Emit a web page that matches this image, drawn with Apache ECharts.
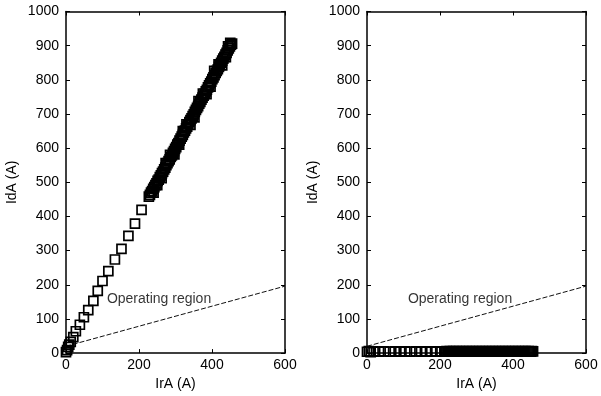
<!DOCTYPE html>
<html>
<head>
<meta charset="utf-8">
<script src="https://cdn.jsdelivr.net/npm/echarts@6/dist/echarts.min.js"></script>
<style>
  html, body { margin: 0; padding: 0; background: #fff; }
  #chart { width: 601px; height: 396px; }
</style>
</head>
<body>
<div id="chart"></div>
<script>
// tick labels
const xTicks = [0, 200, 400, 600]
const yTicks = [0, 100, 200, 300, 400, 500, 600, 700, 800, 900, 1000]

// operating region boundary (IrA, IdA)
const boundary = [[0, 20], [600, 196]]

// left panel: sparse measured points at low current
const leftSparse = [
  [0, 3], [3, 9], [6, 18], [9, 25], [13, 33], [20, 47], [27, 64], [38, 83],
  [49, 105], [61, 126], [75, 153], [87, 182], [100, 211], [116, 240],
  [134, 274], [152, 305], [171, 343], [189, 379], [207, 419]
]

// left panel: dense points from ~225 A upward
const leftDense = [
  [227, 458], [230, 463], [233, 470], [236, 474], [239, 481], [242, 486], [245, 492],
  [248, 497], [251, 504], [254, 508], [257, 515], [260, 520], [263, 527], [266, 531],
  [269, 538], [272, 543], [275, 550], [278, 556], [281, 562], [284, 567], [287, 574],
  [290, 579], [293, 586], [296, 591], [299, 598], [302, 603], [305, 610], [308, 615],
  [311, 622], [314, 628], [317, 634], [320, 639], [323, 646], [326, 651], [329, 658],
  [332, 663], [335, 670], [338, 676], [341, 682], [344, 687], [347, 694], [350, 699],
  [353, 706], [356, 712], [359, 718], [362, 723], [365, 730], [368, 735], [371, 742],
  [374, 748], [377, 754], [380, 759], [383, 766], [386, 771], [389, 778], [392, 784],
  [395, 790], [398, 795], [401, 802], [404, 807], [407, 814], [410, 820], [413, 826],
  [416, 831], [419, 838], [422, 843], [425, 850], [428, 856], [431, 862], [434, 867],
  [437, 874], [440, 879], [443, 886], [446, 892], [449, 898], [452, 903], [455, 906],
  // slightly off-line points that widen the band
  [240, 470], [250, 492], [262, 512], [273, 556], [285, 580], [297, 582], [310, 610],
  [320, 650], [330, 670], [341, 668], [352, 690], [363, 738], [375, 760], [385, 758],
  [396, 780], [406, 826], [418, 845], [428, 842], [438, 866], [444, 898], [450, 908]
]

// right panel: same IrA, IdA close to zero
const rightSparse = [
  [0, 4], [5, 6], [10, 3], [18, 5], [33, 4], [47, 5], [62, 4], [76, 5], [91, 4],
  [105, 5], [119, 4], [134, 5], [148, 4], [162, 5], [176, 4], [190, 5], [204, 4]
]
const rightDense = [
  [212, 5], [215, 4], [218, 6], [221, 5], [224, 4], [227, 6], [230, 5], [233, 4],
  [236, 6], [239, 5], [242, 4], [245, 6], [248, 5], [251, 4], [254, 6], [257, 5],
  [260, 4], [263, 6], [266, 5], [269, 4], [272, 6], [275, 5], [278, 4], [281, 6],
  [284, 5], [287, 4], [290, 6], [293, 5], [296, 4], [299, 6], [302, 5], [305, 4],
  [308, 6], [311, 5], [314, 4], [317, 6], [320, 5], [323, 4], [326, 6], [329, 5],
  [332, 4], [335, 6], [338, 5], [341, 4], [344, 6], [347, 5], [350, 4], [353, 6],
  [356, 5], [359, 4], [362, 6], [365, 5], [368, 4], [371, 6], [374, 5], [377, 4],
  [380, 6], [383, 5], [386, 4], [389, 6], [392, 5], [395, 4], [398, 6], [401, 5],
  [404, 4], [407, 6], [410, 5], [413, 4], [416, 6], [419, 5], [422, 4], [425, 6],
  [428, 5], [431, 4], [434, 6], [437, 5], [440, 4], [443, 6], [446, 5], [449, 4],
  [452, 6], [455, 5]
]

const regionLabel = 'Operating region'
const labelPos = [112, 158]

const font = 'Liberation Sans, Arial, sans-serif'
const black = '#000'

function xAxisPair(gridIndex) {
  const base = {
    gridIndex: gridIndex,
    type: 'value',
    min: 0,
    max: 600,
    interval: 200,
    splitLine: { show: false },
    axisLine: { show: true, onZero: false, lineStyle: { color: black, width: 1.5 } },
    axisTick: { show: true, inside: true, length: 4, lineStyle: { color: black } }
  }
  return [
    Object.assign({}, base, {
      position: 'bottom',
      name: 'IrA (A)',
      nameLocation: 'middle',
      nameGap: 23,
      nameTextStyle: { color: black, fontSize: 14, fontFamily: font },
      axisLabel: {
        color: black, fontSize: 14, fontFamily: font, margin: 5,
        formatter: v => xTicks.indexOf(v) >= 0 ? String(v) : ''
      }
    }),
    Object.assign({}, base, { position: 'top', axisLabel: { show: false } })
  ]
}

function yAxisPair(gridIndex) {
  const base = {
    gridIndex: gridIndex,
    type: 'value',
    min: 0,
    max: 1000,
    interval: 100,
    splitLine: { show: false },
    axisLine: { show: true, onZero: false, lineStyle: { color: black, width: 1.5 } },
    axisTick: { show: true, inside: true, length: 4, lineStyle: { color: black } }
  }
  return [
    Object.assign({}, base, {
      position: 'left',
      name: 'IdA (A)',
      nameLocation: 'middle',
      nameRotate: 90,
      nameGap: 47,
      nameTextStyle: { color: black, fontSize: 14, fontFamily: font },
      axisLabel: {
        color: black, fontSize: 14, fontFamily: font, margin: 7,
        formatter: v => yTicks.indexOf(v) >= 0 ? String(v) : ''
      }
    }),
    Object.assign({}, base, { position: 'right', axisLabel: { show: false } })
  ]
}

// hollow squares, as in the original plot
const squareStyle = {
  type: 'scatter',
  symbol: 'rect',
  symbolSize: 9,
  clip: false,
  itemStyle: { color: 'rgba(0,0,0,0)', borderColor: black, borderWidth: 1.7, opacity: 1 },
  emphasis: { disabled: true },
  silent: true
}

function panelSeries(axisOffset, sparse, dense) {
  return [
    {
      type: 'line',
      xAxisIndex: axisOffset,
      yAxisIndex: axisOffset,
      data: boundary,
      symbol: 'none',
      silent: true,
      lineStyle: { color: '#111', width: 1, type: [5, 2] },
      z: 1
    },
    Object.assign({}, squareStyle, { xAxisIndex: axisOffset, yAxisIndex: axisOffset, data: sparse, z: 3 }),
    Object.assign({}, squareStyle, { xAxisIndex: axisOffset, yAxisIndex: axisOffset, data: dense, z: 3 }),
    {
      type: 'scatter',
      xAxisIndex: axisOffset,
      yAxisIndex: axisOffset,
      data: [labelPos],
      symbolSize: 0,
      silent: true,
      label: {
        show: true,
        position: 'right',
        distance: 0,
        formatter: regionLabel,
        color: black,
        fontSize: 14,
        fontFamily: font
      }
    }
  ]
}

const chart = echarts.init(document.getElementById('chart'))

const option = {
  animation: false,
  backgroundColor: '#fff',
  grid: [
    { left: 66, right: 316, top: 11.5, bottom: 38 },
    { left: 367, right: 15, top: 11.5, bottom: 38 }
  ],
  xAxis: xAxisPair(0).concat(xAxisPair(1)),
  yAxis: yAxisPair(0).concat(yAxisPair(1)),
  series: panelSeries(0, leftSparse, leftDense).concat(panelSeries(2, rightSparse, rightDense))
}

chart.setOption(option)
</script>
</body>
</html>
